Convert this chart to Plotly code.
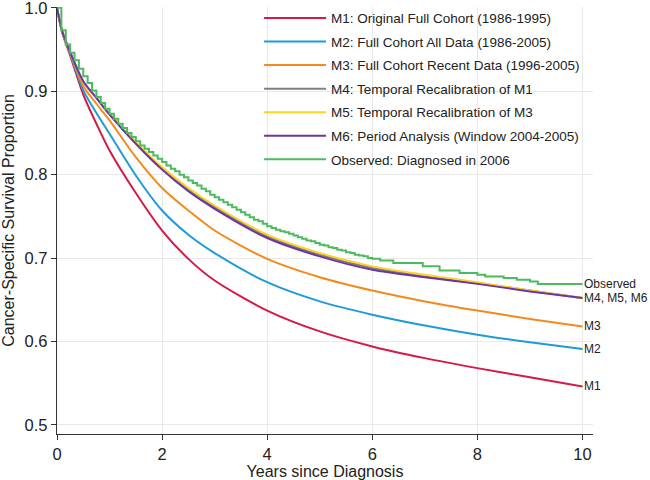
import plotly.graph_objects as go

# model prediction times (years since diagnosis)
years = [0, 0.1, 0.25, 0.5, 0.75, 1, 1.5, 2, 2.5, 3, 4, 5, 6, 7, 8, 9, 10]

m1 = [1.0, 0.970, 0.943, 0.896, 0.861, 0.829, 0.778, 0.733, 0.699, 0.673, 0.637, 0.612, 0.594, 0.580, 0.568, 0.557, 0.546]
m2 = [1.0, 0.971, 0.945, 0.901, 0.874, 0.849, 0.799, 0.757, 0.728, 0.706, 0.671, 0.648, 0.632, 0.619, 0.608, 0.599, 0.591]
m3 = [1.0, 0.971, 0.946, 0.906, 0.885, 0.865, 0.821, 0.784, 0.757, 0.733, 0.699, 0.677, 0.661, 0.648, 0.637, 0.627, 0.618]
m4 = [1.0, 0.972, 0.947, 0.911, 0.892, 0.873, 0.838, 0.808, 0.782, 0.761, 0.726, 0.704, 0.688, 0.678, 0.670, 0.661, 0.652]
m5 = [1.0, 0.972, 0.947, 0.911, 0.892, 0.873, 0.839, 0.809, 0.784, 0.763, 0.728, 0.706, 0.690, 0.680, 0.671, 0.661, 0.652]
m6 = [1.0, 0.972, 0.947, 0.912, 0.892, 0.872, 0.837, 0.806, 0.780, 0.759, 0.724, 0.702, 0.686, 0.677, 0.669, 0.660, 0.652]

# observed Kaplan-Meier (monthly steps to year 6, then sparser)
obs_time = [m / 12 for m in range(73)] + [6.15, 6.4, 6.96, 7.28, 7.66, 8.0, 8.15, 8.5, 8.75, 9.0, 9.15, 10.0]
obs_surv = [1.000, 0.973, 0.956, 0.946, 0.937, 0.927, 0.918, 0.910, 0.901, 0.893, 0.886, 0.879, 0.873,
            0.867, 0.861, 0.856, 0.850, 0.845, 0.840, 0.835, 0.831, 0.827, 0.823, 0.819, 0.815,
            0.811, 0.807, 0.804, 0.800, 0.797, 0.793, 0.790, 0.787, 0.783, 0.780, 0.776, 0.773,
            0.770, 0.767, 0.764, 0.761, 0.758, 0.755, 0.752, 0.749, 0.746, 0.744, 0.741, 0.738,
            0.736, 0.734, 0.732, 0.731, 0.729, 0.727, 0.725, 0.723, 0.721, 0.720, 0.718, 0.716,
            0.715, 0.713, 0.712, 0.710, 0.709, 0.707, 0.706, 0.704, 0.703, 0.702, 0.700, 0.699,
            0.697, 0.694, 0.690, 0.685, 0.682, 0.680, 0.678, 0.676, 0.674, 0.672, 0.669, 0.669]

names = ["M1: Original Full Cohort (1986-1995)",
         "M2: Full Cohort All Data (1986-2005)",
         "M3: Full Cohort Recent Data (1996-2005)",
         "M4: Temporal Recalibration of M1",
         "M5: Temporal Recalibration of M3",
         "M6: Period Analysis (Window 2004-2005)",
         "Observed: Diagnosed in 2006"]
colors = ["#d41a46", "#1f9bd6", "#f28a1e", "#808080", "#ffd325", "#6a35a6", "#4cbb5e"]

end_labels = ["M1", "M2", "M3", "M4, M5, M6", "Observed"]
end_values = [m1[-1], m2[-1], m3[-1], m6[-1], obs_surv[-1]]

fig = go.Figure()
for i, ys in enumerate([m1, m2, m3, m4, m5, m6]):
    fig.add_trace(go.Scatter(x=years, y=ys, mode="lines", name=names[i], legendgroup=str(i),
                             line=dict(color=colors[i], width=2, shape="spline", smoothing=0.8)))
fig.add_trace(go.Scatter(x=obs_time, y=obs_surv, mode="lines", name=names[6], legendgroup="6",
                         line=dict(color=colors[6], width=2, shape="hv")))

for lab, v in zip(end_labels, end_values):
    fig.add_annotation(x=years[-1], y=v, text=lab, showarrow=False, xanchor="left",
                       xshift=0, font=dict(size=12, color="#222"))

axis_common = dict(showgrid=True, gridcolor="#e9e9e9", gridwidth=1, zeroline=False,
                   showline=True, linecolor="#333", linewidth=1.3,
                   ticks="outside", ticklen=5, tickcolor="#333",
                   tickfont=dict(size=16.5, color="#222"),
                   automargin=False, ticklabeloverflow="allow")

fig.update_xaxes(range=[0, 10.2], tickvals=[0, 2, 4, 6, 8, 10],
                 title=dict(text="Years since Diagnosis", font=dict(size=16, color="#222"), standoff=2),
                 **axis_common)
fig.update_yaxes(range=[0.489, 1.001], tickvals=[0.5, 0.6, 0.7, 0.8, 0.9, 1.0], tickformat=".1f",
                 title=dict(text="Cancer-Specific Survival Proportion", font=dict(size=16, color="#222"), standoff=6),
                 **axis_common)

fig.update_layout(
    width=650, height=480,
    margin=dict(l=57, r=57, t=7, b=46, autoexpand=False),
    plot_bgcolor="white", paper_bgcolor="white",
    font=dict(family="Arial, Liberation Sans, sans-serif", color="#222"),
    showlegend=True,
    legend=dict(x=0.377, y=1.01, xanchor="left", yanchor="top", bgcolor="rgba(0,0,0,0)",
                font=dict(size=13.5, color="#222"), itemwidth=62,
                traceorder="grouped", tracegroupgap=3),
)

# drop the default page margin so the figure sits at the window corner
fig.write_html("out.html", config={"displayModeBar": False},
               post_script="document.body.style.margin='0px';")
